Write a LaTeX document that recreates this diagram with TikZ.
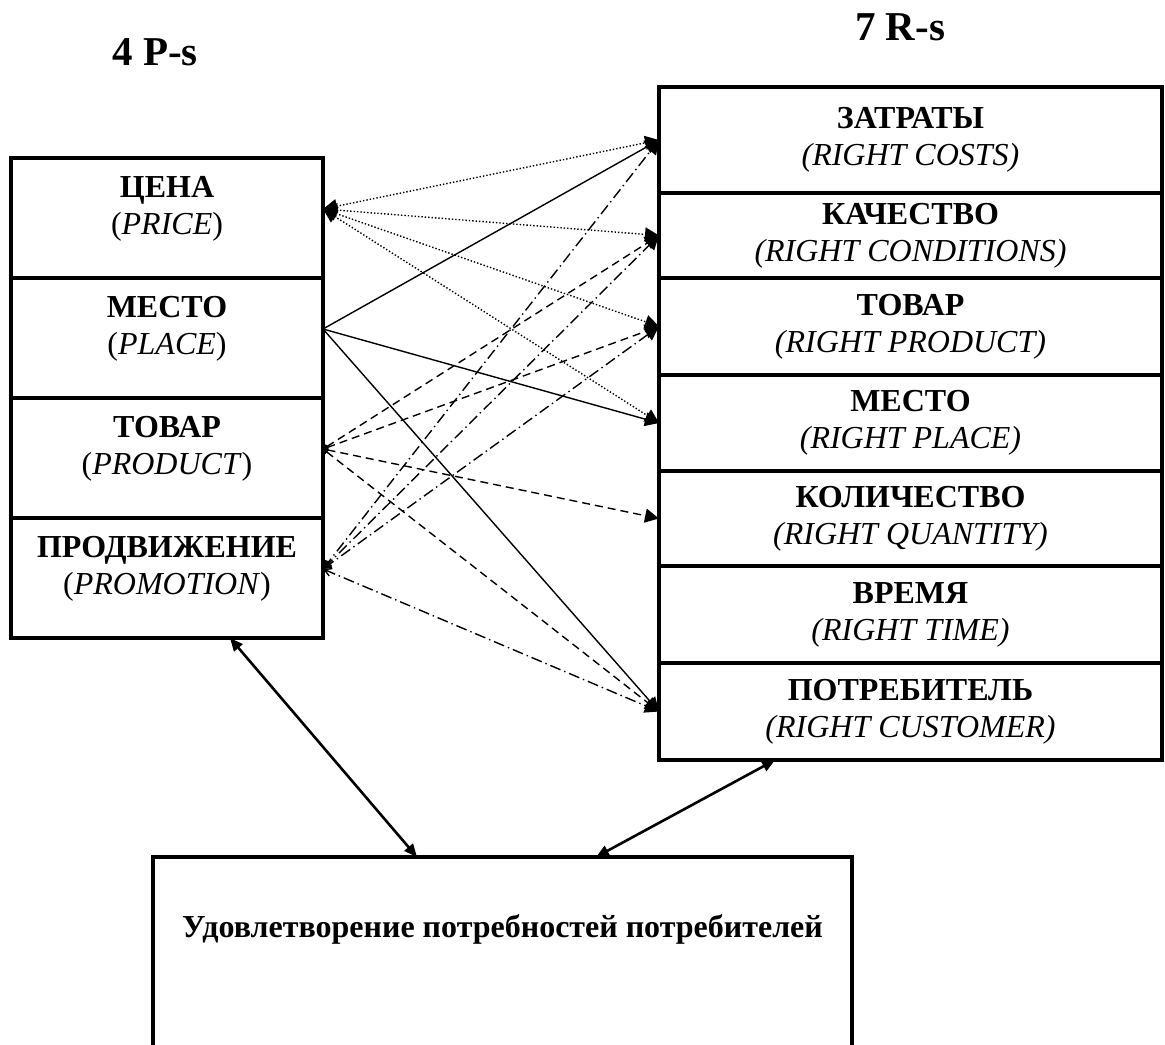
\documentclass[tikz,border=0pt]{standalone}
\usepackage{fontspec}
\setmainfont{Liberation Serif}
\usetikzlibrary{arrows.meta,positioning}

\begin{document}
\begin{tikzpicture}[
    x=0.5pt, y=-0.5pt,
    pcell/.style={
    rectangle,
    draw=black,
    line width=2pt,
    outer sep=0pt,
    inner sep=0pt,
    minimum width=156pt,
    minimum height=60pt},
    ptext/.style={
    align=center,
    inner sep=0pt,
    font=\fontsize{16}{18.5}\selectfont},
    rcell/.style={
    rectangle,
    draw=black,
    line width=2pt,
    outer sep=0pt,
    inner sep=0pt,
    minimum width=251.5pt,
    align=center,
    font=\fontsize{16}{18.5}\selectfont},
    goalbox/.style={
    rectangle,
    draw=black,
    line width=2pt,
    outer sep=0pt,
    minimum width=349.5pt,
    minimum height=150pt},
    headtext/.style={anchor=base, font=\fontsize{20.5}{24}\selectfont\bfseries},
    goaltext/.style={anchor=base, inner sep=0pt, font=\fontsize{16}{18.5}\selectfont\bfseries},
    bigtip/.tip={Triangle[length=7pt,width=7pt]},
    smalltip/.tip={Triangle[length=2.5pt,width=2.5pt]},
    barbtip/.tip={Straight Barb[length=3.5pt,width=4pt]},
    dotlink/.style={line width=0.7pt, dash pattern=on 0.7pt off 1pt, bigtip-bigtip},
    solidlink/.style={line width=0.7pt, -bigtip},
    dashlink/.style={line width=0.7pt, dash pattern=on 4pt off 2.5pt, smalltip-bigtip},
    dashdotlink/.style={line width=0.7pt, dash pattern=on 5.5pt off 2pt on 0.7pt off 2pt, barbtip-bigtip},
    goallink/.style={line width=1.3pt, {Triangle[length=6.5pt,width=5.5pt]}-{Triangle[length=6.5pt,width=5.5pt]}},
    node distance=0pt
    ]

    \path[use as bounding box, fill=white] (0,0) rectangle (1165,1044);

    % headings
    \node[headtext] (fourp) at (155,65) {4 P-s};
    \node[headtext] (sevenr) at (900,40) {7 R-s};

    % 4 P-s
    \node[pcell] (price) at (167,218) {};
    \node[pcell, below=of price] (place) {};
    \node[pcell, below=of place] (product) {};
    \node[pcell, below=of product] (promo) {};

    \node[ptext] (pricetxt) at ([yshift=4.5pt]price.center) {\textbf{ЦЕНА}\\(\textit{PRICE})};
    \node[ptext] (placetxt) at ([yshift=4.5pt]place.center) {\textbf{МЕСТО}\\(\textit{PLACE})};
    \node[ptext] (producttxt) at ([yshift=4.5pt]product.center) {\textbf{ТОВАР}\\(\textit{PRODUCT})};
    \node[ptext] (promotxt) at ([yshift=4.5pt]promo.center) {\textbf{ПРОДВИЖЕНИЕ}\\(\textit{PROMOTION})};

    % 7 R-s
    \node[rcell, minimum height=53pt] (costs) at (910.5,140) {\textbf{ЗАТРАТЫ}\\\textit{(RIGHT COSTS)}};
    \node[rcell, minimum height=42.5pt, below=of costs] (cond) {\textbf{КАЧЕСТВО}\\\textit{(RIGHT CONDITIONS)}};
    \node[rcell, minimum height=48.5pt, below=of cond] (rprod) {\textbf{ТОВАР}\\\textit{(RIGHT PRODUCT)}};
    \node[rcell, minimum height=48pt, below=of rprod] (rplace) {\textbf{МЕСТО}\\\textit{(RIGHT PLACE)}};
    \node[rcell, minimum height=47.5pt, below=of rplace] (quant) {\textbf{КОЛИЧЕСТВО}\\\textit{(RIGHT QUANTITY)}};
    \node[rcell, minimum height=48.5pt, below=of quant] (rtime) {\textbf{ВРЕМЯ}\\\textit{(RIGHT TIME)}};
    \node[rcell, minimum height=48.5pt, below=of rtime] (cust) {\textbf{ПОТРЕБИТЕЛЬ}\\\textit{(RIGHT CUSTOMER)}};

    % goal
    \node[goalbox, anchor=north] (goal) at (502.5,857) {};
    \node[goaltext] (goaltxt) at ([yshift=-40pt]goal.north) {Удовлетворение потребностей потребителей};

    % price
    \draw[dotlink] (pricetxt -| price.east) -- (costs.west);
    \draw[dotlink] (pricetxt -| price.east) -- (cond.west);
    \draw[dotlink] (pricetxt -| price.east) -- (rprod.west);
    \draw[dotlink] (pricetxt -| price.east) -- (rplace.west);

    % place
    \draw[solidlink] (placetxt -| place.east) -- (costs.west);
    \draw[solidlink] (placetxt -| place.east) -- (rplace.west);
    \draw[solidlink] (placetxt -| place.east) -- (cust.west);

    % product
    \draw[dashlink] (producttxt -| product.east) -- (cond.west);
    \draw[dashlink] (producttxt -| product.east) -- (rprod.west);
    \draw[dashlink] (producttxt -| product.east) -- (quant.west);
    \draw[dashlink] (producttxt -| product.east) -- (cust.west);

    % promotion
    \draw[dashdotlink] (promotxt -| promo.east) -- (costs.west);
    \draw[dashdotlink] (promotxt -| promo.east) -- (cond.west);
    \draw[dashdotlink] (promotxt -| promo.east) -- (rprod.west);
    \draw[dashdotlink] (promotxt -| promo.east) -- (cust.west);

    \draw[goallink] ([xshift=31.5pt]promo.south) -- ([xshift=-42.75pt]goal.north);
    \draw[goallink] ([xshift=46.75pt]goal.north) -- ([xshift=-67.75pt]cust.south);
\end{tikzpicture}
\end{document}
